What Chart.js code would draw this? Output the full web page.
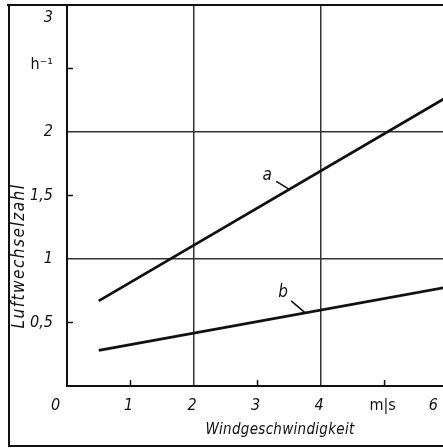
<!DOCTYPE html>
<html>
<head>
<meta charset="utf-8">
<script src="https://cdn.jsdelivr.net/npm/chart.js@4/dist/chart.umd.min.js"></script>
<style>
  html, body { margin: 0; padding: 0; background: #fff; }
  #wrap { width: 443px; height: 448px; position: relative; }
</style>
</head>
<body>
<div id="wrap"><canvas id="chart"></canvas></div>
<script>
// values
const windSpeed = [0.5, 6];          // m/s
const curveA = [0.67, 2.28];         // h^-1
const curveB = [0.28, 0.78];         // h^-1
const seriesLabels = ['a', 'b'];
const xTickLabels = ['0', '1', '2', '3', '4', 'm|s', '6'];
const yTickLabels = ['', '0,5', '1', '1,5', '2', 'h\u207B\u00B9', '3'];
const xTitle = 'Windgeschwindigkeit';
const yTitle = 'Luftwechselzahl';

const FONT = '"DejaVu Sans Condensed", "DejaVu Sans", sans-serif';
const INK = '#111';
const GRID = '#333';

function pts(ys) {
  return windSpeed.map((x, i) => ({ x: x, y: ys[i] }));
}

// y value on a straight curve at x (for placing the a/b leader marks)
function onCurve(ys, x) {
  const t = (x - windSpeed[0]) / (windSpeed[1] - windSpeed[0]);
  return ys[0] + t * (ys[1] - ys[0]);
}

// unit labels are upright, numbers italic
function tickFont(labels) {
  return ctx => {
    const lab = labels[ctx.index] || '';
    const unit = /[a-z]/i.test(lab);
    return { family: FONT, size: 16, style: unit ? 'normal' : 'italic' };
  };
}

const decor = {
  id: 'decor',
  afterDraw(chart) {
    const c = chart.ctx;
    const xs = chart.scales.x, ys = chart.scales.y;
    const area = chart.chartArea;
    c.save();
    c.strokeStyle = INK;
    c.lineCap = 'butt';

    // outer frame (left, bottom) and top edge
    c.lineWidth = 2;
    c.beginPath();
    c.moveTo(9, 4); c.lineTo(9, 446); c.lineTo(443, 446);
    c.moveTo(7, area.top); c.lineTo(443, area.top);
    c.stroke();

    // small inward tick marks
    c.lineWidth = 1.5;
    c.beginPath();
    [1, 3, 5].forEach(v => {
      const px = xs.getPixelForValue(v);
      c.moveTo(px, area.bottom); c.lineTo(px, area.bottom - 6);
    });
    [0.5, 1.5, 2.5].forEach(v => {
      const py = ys.getPixelForValue(v);
      c.moveTo(area.left, py); c.lineTo(area.left + 6, py);
    });
    c.stroke();

    // curve labels with leader strokes
    c.fillStyle = INK;
    c.font = 'italic 17px ' + FONT;
    c.textAlign = 'center';
    c.textBaseline = 'middle';
    const marks = [
      { ys: curveA, x: 3.5, dx: -13, dy: -8, lx: -9, ly: -6 },
      { ys: curveB, x: 3.75, dx: -14, dy: -12, lx: -8, ly: -8 }
    ];
    marks.forEach((m, i) => {
      const ex = xs.getPixelForValue(m.x);
      const ey = ys.getPixelForValue(onCurve(m.ys, m.x));
      const sx = ex + m.dx, sy = ey + m.dy;
      c.lineWidth = 1.5;
      c.beginPath();
      c.moveTo(sx, sy); c.lineTo(ex, ey);
      c.stroke();
      c.fillText(seriesLabels[i], sx + m.lx, sy + m.ly);
    });

    // axis titles
    c.font = 'italic 15px ' + FONT;
    c.letterSpacing = '0.3px';
    c.fillText(xTitle, 280, 430);
    c.font = 'italic 17px ' + FONT;
    c.letterSpacing = '1.5px';
    c.translate(20, 256);
    c.rotate(-Math.PI / 2);
    c.fillText(yTitle, 0, 0);
    c.restore();
  }
};

new Chart(document.getElementById('chart'), {
  type: 'line',
  data: {
    datasets: [
      { label: seriesLabels[0], data: pts(curveA) },
      { label: seriesLabels[1], data: pts(curveB) }
    ]
  },
  options: {
    responsive: true,
    maintainAspectRatio: false,
    devicePixelRatio: 1,
    animation: false,
    layout: { padding: { top: 5, left: 0, right: 0, bottom: 0 } },
    elements: {
      line: { borderColor: INK, borderWidth: 2.8, tension: 0 },
      point: { radius: 0 }
    },
    plugins: {
      legend: { display: false },
      tooltip: { enabled: false }
    },
    scales: {
      x: {
        type: 'linear',
        min: 0,
        max: 5.92,
        afterBuildTicks(scale) {
          // the 0 sits left of the origin, the 6 is pulled inside the cut edge
          const at = [-0.15, 1, 2, 3, 4, 5, 5.8];
          scale.ticks = at.map(v => ({ value: v }));
        },
        afterFit(scale) {
          scale.height = 62;
          scale.paddingLeft = 0;
          scale.paddingRight = 0;
        },
        ticks: {
          autoSkip: false,
          maxRotation: 0,
          padding: 10,
          labelOffset: -2,
          color: INK,
          font: tickFont(xTickLabels),
          callback: (v, i) => xTickLabels[i]
        },
        grid: {
          drawTicks: false,
          lineWidth: 1.5,
          color: ctx => (ctx.tick && (ctx.tick.value === 2 || ctx.tick.value === 4)) ? GRID : 'rgba(0,0,0,0)'
        },
        border: { color: INK, width: 2 }
      },
      y: {
        type: 'linear',
        min: 0,
        max: 3,
        afterBuildTicks(scale) {
          const at = [0, 0.5, 1, 1.5, 2, 2.53, 2.9];
          scale.ticks = at.map(v => ({ value: v }));
        },
        afterFit(scale) {
          scale.width = 67;
          scale.paddingTop = 0;
          scale.paddingBottom = 0;
        },
        ticks: {
          autoSkip: false,
          padding: 14,
          color: INK,
          font: tickFont(yTickLabels),
          callback: (v, i) => yTickLabels[i]
        },
        grid: {
          drawTicks: false,
          lineWidth: 1.5,
          color: ctx => (ctx.tick && (ctx.tick.value === 1 || ctx.tick.value === 2)) ? GRID : 'rgba(0,0,0,0)'
        },
        border: { color: INK, width: 2 }
      }
    }
  },
  plugins: [decor]
});
</script>
</body>
</html>
